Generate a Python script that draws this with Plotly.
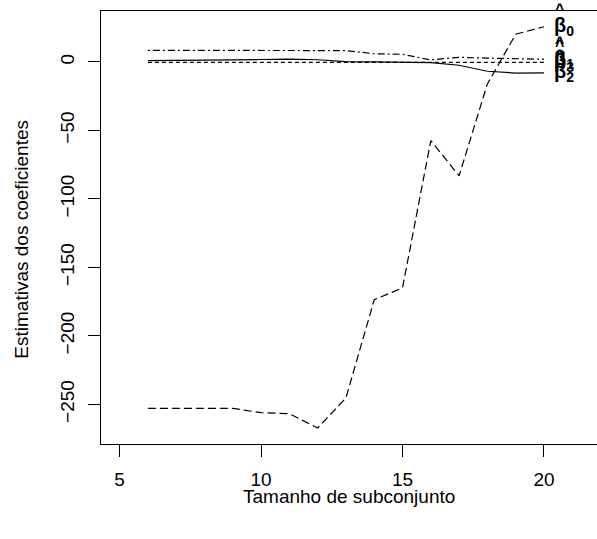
import plotly.graph_objects as go

subset_size = [6, 7, 8, 9, 10, 11, 12, 13, 14, 15, 16, 17, 18, 19, 20]
beta0 = [-252.9, -252.9, -252.9, -252.9, -256.0, -256.8, -267.2, -245.3,
         -173.6, -164.9, -57.4, -83.2, -16.0, 20.2, 25.7]
beta1 = [8.5, 8.5, 8.5, 8.5, 8.5, 8.5, 8.7, 8.3, 6.0, 5.6, 1.5, 3.4, 2.8, 2.3, 2.0]
beta2 = [1.0, 1.0, 1.2, 1.5, 1.8, 2.0, 1.6, 0.3, 0.0, 0.0, -0.5, -2.4, -6.8, -8.1, -8.0]
beta3 = [-0.3, -0.3, -0.3, -0.3, -0.3, -0.3, -0.2, -0.2, -0.3, -0.3, -0.4, -0.4, -0.4, -0.3, -0.3]

series = [
    ("β<sub>0</sub>", beta0, "8px,4px"),
    ("β<sub>1</sub>", beta1, "2px,3px,7px,3px"),
    ("β<sub>2</sub>", beta2, "solid"),
    ("β<sub>3</sub>", beta3, "4px,3px"),
]

x_ticks = [5, 10, 15, 20]
y_ticks = [0, -50, -100, -150, -200, -250]

FONT = "Liberation Sans, Arial, Helvetica, sans-serif"

fig = go.Figure()
for name, vals, dash in series:
    fig.add_trace(go.Scatter(x=subset_size, y=vals, mode="lines",
                             line=dict(color="black", width=1.2, dash=dash),
                             showlegend=False, hoverinfo="skip"))
    fig.add_annotation(x=20.69, y=vals[-1], xref="x", yref="y",
                       text="<b>" + name + "</b>", showarrow=False,
                       font=dict(family=FONT, size=20, color="black"),
                       xanchor="center", yanchor="middle")
    fig.add_annotation(x=20.69, y=vals[-1], xref="x", yref="y",
                       text="<b>^</b>", showarrow=False, xshift=-4, yshift=17,
                       font=dict(family=FONT, size=16, color="black"),
                       xanchor="center", yanchor="middle")

fig.add_annotation(x=0.5, y=-0.1205, xref="paper", yref="paper",
                   text="Tamanho de subconjunto", showarrow=False,
                   font=dict(family=FONT, size=19, color="black"),
                   xanchor="center", yanchor="middle")
fig.add_annotation(x=-0.1606, y=0.4727, xref="paper", yref="paper",
                   text="Estimativas dos coeficientes", showarrow=False, textangle=-90,
                   font=dict(family=FONT, size=19, color="black"),
                   xanchor="center", yanchor="middle")

fig.update_layout(
    width=597, height=539,
    margin=dict(l=101, r=0, t=11, b=95),
    paper_bgcolor="white", plot_bgcolor="white",
    font=dict(family=FONT, size=19, color="black"),
)
fig.update_xaxes(range=[4.343, 21.874], tickvals=x_ticks, ticks="outside", ticklen=12,
                 tickcolor="black", showline=True, linecolor="black", linewidth=1,
                 mirror=True, showgrid=False, zeroline=False, ticklabelstandoff=6,
                 automargin=False)
fig.update_yaxes(range=[-278.9, 37.2], tickvals=y_ticks, ticks="outside", ticklen=12,
                 tickcolor="black", showline=True, linecolor="black", linewidth=1,
                 showgrid=False, zeroline=False, tickangle=-90, ticklabelstandoff=6,
                 automargin=False)

fig.write_html("out.html", config={"displayModeBar": False},
               post_script="document.body.style.margin='0';")
